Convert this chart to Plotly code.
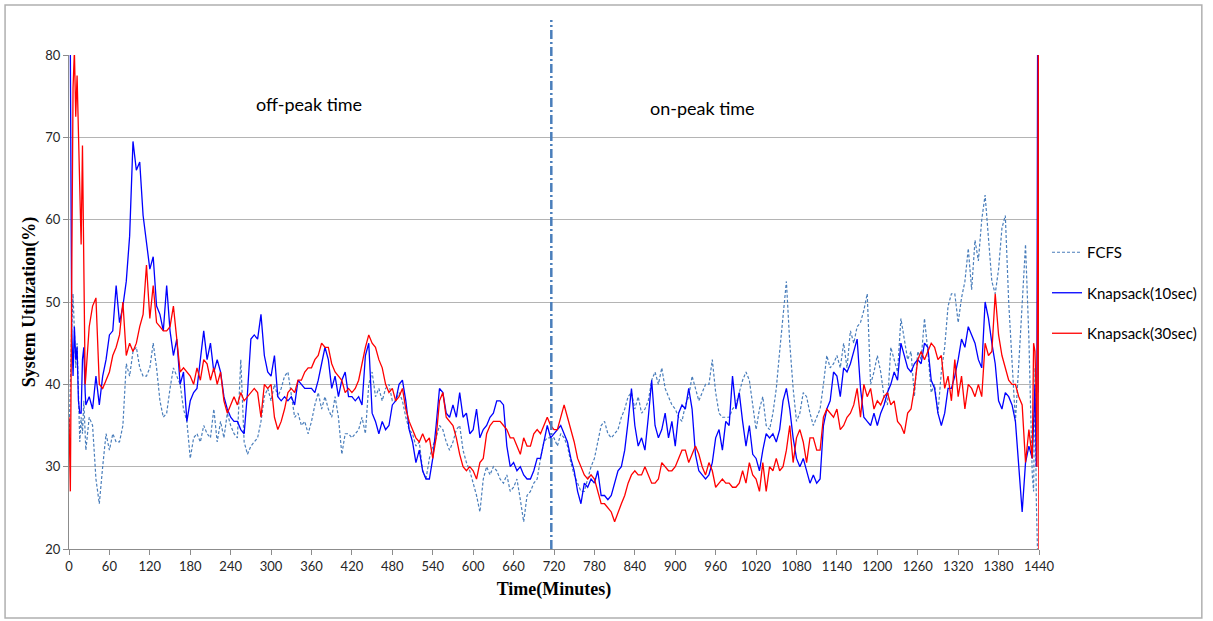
import plotly.graph_objects as go

# Time axis (minutes of the day): fine steps at the start and end, 5-minute steps in between
minutes = list(range(0, 25, 2)) + list(range(25, 1431, 5)) + [1432, 1434, 1436, 1437, 1438, 1439, 1440]

fcfs = [
    33, 41, 47, 51, 46, 42, 45, 39, 33, 36, 34, 38, 33,
    32, 36, 35, 28.5, 25.5, 30, 34, 32, 34, 33, 33, 35, 42.5, 41, 44, 44.5, 42, 41, 41,
    42, 45, 42, 38, 36, 36.5, 39.5, 42, 41, 40, 37, 35.5, 31, 33.5, 34, 33, 35, 34,
    33.5, 37, 33, 35.5, 33.5, 36.5, 35, 34, 33.5, 43, 33, 31.5, 32.5, 33, 33.5, 35.5,
    38.5, 39.5, 38, 40, 38.5, 39.5, 41, 41.5, 39, 36, 36.5, 35, 35.5, 34, 35.5, 37.5,
    39, 37, 38.5, 37, 36, 38.5, 36, 31.5, 34, 34, 33.5, 34, 34.5, 36, 34, 40,
    41.5, 38.5, 39.5, 38, 39.5, 40, 38, 38, 39, 38, 36, 34.5, 34, 32.5, 33, 29.5,
    28.5, 31, 32.5, 33.5, 35, 34.5, 33, 32, 33, 34.5, 35, 32, 30.5, 29.5, 28, 26.5,
    24.5, 28.5, 30, 29, 30, 29.5, 28.5, 28, 29, 27, 27.5, 28.5, 26, 23.3, 26.5, 27,
    28, 28.5, 31, 33, 33.5, 33.5, 33.5, 32.5, 34, 33.5, 32.5, 30.5, 29, 28, 27, 27,
    28.5, 30, 31, 33, 35, 35.5, 34, 33.5, 34, 34.5, 36, 37, 38.5, 39, 37, 38.5,
    36.5, 37, 38, 40.5, 41.5, 40, 42, 39.5, 38.5, 37.5, 37, 36, 35.5, 37.5, 38.5, 41,
    39.5, 38, 39, 40, 40, 43, 39, 36.5, 36, 36, 36, 37, 37.5, 39, 40.5, 41.5,
    40.5, 37.5, 34.5, 37, 38.5, 35, 34.5, 36.5, 39.5, 44, 48, 52.5, 45, 39.5, 35.5, 36.5,
    39, 38.5, 36.5, 35, 36, 37, 40, 43.5, 42, 42.5, 43.5, 42, 45, 42, 46.5, 45,
    47, 47.5, 49, 51, 40, 41.5, 43.5, 41.5, 38.5, 37.5, 44.5, 43, 41.5, 48, 45.5, 43,
    44, 38.5, 44, 43, 48, 44, 39, 40, 36.5, 41.5, 44.5, 49.5, 51, 51, 47.5, 50.5,
    52.5, 56.5, 51.5, 57.5, 55, 60, 63, 57.5, 52.5, 51, 54, 59, 60.5, 50, 43, 35.5,
    42.5, 49.5, 57, 45.5, 29,
    27, 42, 26, 19, 19, 19, 19,
]

knapsack_10 = [
    85, 80.5, 47, 41, 47, 43, 44.5, 38, 36.5, 36.5, 43, 44.5, 39,
    37.5, 38.5, 37, 41, 37.5, 41, 43, 46, 46.5, 52, 47.5, 49.5, 52.5, 58, 69.5, 66, 67, 60.5,
    57, 54, 55.5, 49.5, 48.5, 46.5, 52, 46.5, 43.5, 45.5, 40, 41.5, 35.5, 38, 39, 39.5,
    43, 46.5, 43, 45, 41.5, 43, 41.5, 38.5, 37, 36, 35.5, 35.5, 34.5, 34, 39, 45.5,
    46, 45.5, 48.5, 43.5, 41.5, 41, 43.5, 38.5, 38, 38.5, 38, 38.5, 37.5, 40.5, 40, 39.5,
    39.5, 39.5, 39, 40.5, 42.5, 44.5, 43, 39.5, 41, 38.5, 40.5, 41.5, 38.5, 38.5, 38, 38.5,
    37.5, 43.5, 45, 36.5, 35.5, 34, 35.5, 34.5, 35, 37.5, 38, 40, 40.5, 38, 34.5, 33,
    30.5, 32, 29.5, 28.5, 28.5, 31, 35, 39.5, 39, 36.5, 36, 37.5, 36, 39, 36, 36.5,
    34, 34.5, 37, 33.5, 34.5, 35, 36, 36.5, 38, 38, 37.5, 32.5, 30, 30.5, 29.5, 30,
    29, 28.5, 28.5, 29.5, 31, 31, 33, 35, 33.5, 34, 34.5, 35, 34, 33, 31, 29.5,
    27, 25.5, 28, 27.5, 28.5, 28, 29.5, 26.5, 26.5, 26, 26.5, 28, 29.5, 30, 32, 35.5,
    39.5, 35, 32.5, 33.5, 32, 36, 40.5, 35, 33.5, 34.5, 36.5, 33.5, 35.5, 32.5, 36.5, 37.5,
    37, 39.5, 37, 31.5, 29.5, 29, 28.5, 29, 30.5, 33.5, 34.5, 32, 35.5, 35, 41, 37,
    39, 35.5, 32.5, 35, 31.5, 31, 29.5, 32, 34, 33.5, 34, 33, 34.5, 38, 39.5, 37,
    33.5, 31, 30, 31, 29.5, 28, 29, 28, 28.5, 35, 37, 38, 41.5, 41, 38.5, 42,
    41.5, 42.5, 44, 45.5, 39.5, 36, 35.5, 35, 36.5, 35, 36.5, 37.5, 39, 40, 41.5, 40.5,
    45, 43.5, 42, 41.5, 42.5, 43, 42.5, 45, 44.5, 40.5, 39.5, 36.5, 35, 36.5, 39.5, 39.5,
    41, 43, 45.5, 44.5, 47, 46, 45, 43, 42, 50, 48, 45, 42.5, 38, 37, 39,
    38.5, 37.5, 35.5, 30, 24.5, 30.5, 32.5, 31,
    37, 40, 30, 44, 85, 85, 39,
]

knapsack_30 = [
    36, 27, 52, 76, 80.5, 72.5, 77.5, 71, 62, 57, 69, 50, 40,
    41, 47, 49.5, 50.5, 40, 39.5, 40.5, 41.5, 43.5, 44.5, 46, 50, 43.5, 45, 44, 45, 47, 48.5,
    54.5, 48, 52, 47.5, 47, 46.5, 46.5, 47, 49.5, 45.5, 41.5, 42, 41.5, 41, 40, 42,
    40.5, 43, 42.5, 40.5, 42, 40, 41.5, 38, 36.5, 37.5, 38.5, 37.5, 39, 38, 38.5, 39,
    39.5, 39, 36, 40, 39.5, 40, 36, 34.5, 35.5, 37, 39, 39.5, 39, 40.5, 40.5, 41.5,
    42, 42, 43, 43.5, 45, 44.5, 44.5, 42.5, 41.5, 41, 40.5, 39, 39.5, 39, 39.5, 40.5,
    42.5, 44.5, 46, 45, 44.5, 43, 42, 40, 39, 39.5, 38, 38.5, 39.5, 37, 35.5, 34.5,
    33.5, 33, 34, 33, 33.5, 31, 33.5, 38, 39, 36, 35.5, 35, 33.5, 31.5, 30, 29.5,
    30, 29.5, 28.5, 30.5, 31, 34, 35, 35.5, 35.5, 35.5, 35, 34.5, 33.5, 33.5, 32.5, 31.5,
    33.5, 32.5, 32.5, 34, 34.5, 34, 35, 36, 35, 34.5, 34.5, 36, 37.5, 36, 34.5, 33,
    31, 30, 29, 28.5, 29, 28.5, 27, 25.5, 25.5, 25, 24.5, 23.3, 24.5, 25.5, 26.5, 28,
    29, 29.5, 29, 29, 30, 29, 28, 28, 28.5, 30.5, 30, 29.5, 29.5, 30, 31, 32,
    32, 30.5, 31.5, 32.5, 31.5, 30, 29, 30.5, 29.5, 27.5, 28, 28.5, 28, 28, 27.5, 27.5,
    28, 29.5, 28, 30.5, 29, 28.5, 27, 30.5, 27, 30, 29.5, 31, 29.5, 30, 32, 35,
    30.5, 33.5, 34.5, 33, 30.5, 33.5, 33.5, 32, 32, 36, 37, 36.5, 36, 37, 34.5, 35,
    36, 36.5, 37.5, 39.5, 36, 40, 38.5, 39.5, 37, 38, 37.5, 38.5, 39, 37.5, 38, 35.5,
    35, 34, 36.5, 37, 39.5, 43, 44, 43, 44, 45, 44.5, 43, 43.5, 39.5, 41, 38,
    43, 38.5, 41, 37, 40, 39.5, 38.5, 40, 38.5, 45, 43.5, 44, 51, 46, 43.5, 42,
    40.5, 40, 40, 38.5, 37.5, 30.5, 34.5, 31,
    45, 44, 38, 30, 85, 85, 15,
]

series = [
    ("FCFS", fcfs, dict(color="#4a7ebb", width=1.2, dash="3px,2px")),
    ("Knapsack(10sec)", knapsack_10, dict(color="#0000ff", width=1.3)),
    ("Knapsack(30sec)", knapsack_30, dict(color="#ff0000", width=1.3)),
]

fig = go.Figure()
for name, values, line in series:
    fig.add_trace(go.Scatter(
        x=minutes, y=values, mode="lines", name=name, line=line,
        legendgroup=name,
    ))

# Page geometry in pixels
W, H = 1213, 621
L, R, T, B = 69, 1040, 55, 549
pw, ph = R - L, B - T

def px_x(p):
    return (p - L) / pw

def px_y(p):
    return (B - p) / ph

grid_col = "#b4b4b4"
axis_col = "#8c8c8c"
tick_font = dict(family="Lato, 'Open Sans', sans-serif", size=13, color="#262626")
title_font = dict(family="'Liberation Serif', 'DejaVu Serif', serif", size=18, color="#000000")

fig.update_layout(
    width=W, height=H,
    margin=dict(l=L, r=W - R, t=T, b=H - B),
    paper_bgcolor="white", plot_bgcolor="white",
    showlegend=True,
    legend=dict(
        x=px_x(1047), y=px_y(236), xanchor="left", yanchor="top",
        font=dict(family="Lato, 'Open Sans', sans-serif", size=15, color="#000000"),
        tracegroupgap=18, bgcolor="rgba(0,0,0,0)",
    ),
    xaxis=dict(
        range=[0, 1440], tickmode="linear", tick0=0, dtick=60,
        showgrid=False, zeroline=False,
        showline=True, linecolor=axis_col, linewidth=1,
        ticks="outside", ticklen=5, tickcolor=axis_col,
        tickfont=tick_font,
        title=dict(text="<b>Time(Minutes)</b>", font=title_font, standoff=9),
    ),
    yaxis=dict(
        range=[20, 80], tickmode="linear", tick0=20, dtick=10,
        showgrid=True, gridcolor=grid_col, gridwidth=1, zeroline=False,
        showline=True, linecolor=axis_col, linewidth=1,
        ticks="outside", ticklen=5, tickcolor=axis_col,
        tickfont=tick_font,
        title=dict(text="<b>System Utilization(%)</b>", font=title_font, standoff=5),
    ),
)

# Divider between the two periods of the day
fig.add_shape(
    type="line", xref="x", yref="paper",
    x0=716, x1=716, y0=0, y1=px_y(20),
    line=dict(color="#4a7ebb", width=2.5, dash="9px,3px,2px,3px"),
)

# Outer frame around the whole chart
fig.add_shape(
    type="rect", xref="paper", yref="paper", layer="below",
    x0=px_x(5), x1=px_x(1203), y0=px_y(618), y1=px_y(5),
    line=dict(color="#b0b0b0", width=1.5),
)

label_font = dict(family="Lato, 'Open Sans', sans-serif", size=18, color="#000000")
fig.add_annotation(x=357, y=74.1, xref="x", yref="y", text="off-peak time",
                   showarrow=False, font=label_font)
fig.add_annotation(x=940, y=73.6, xref="x", yref="y", text="on-peak time",
                   showarrow=False, font=label_font)

fig.write_html("out.html")
